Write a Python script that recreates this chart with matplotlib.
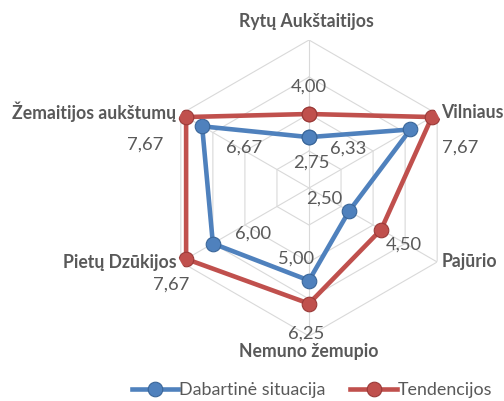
import numpy as np
import matplotlib
matplotlib.use("Agg")
import matplotlib.pyplot as plt

categories = ["Rytų Aukštaitijos", "Vilniaus", "Pajūrio", "Nemuno žemupio",
              "Pietų Dzūkijos", "Žemaitijos aukštumų"]
series_names = ["Dabartinė situacija", "Tendencijos"]
current = [2.75, 6.33, 2.50, 5.00, 6.00, 6.67]
trend = [4.00, 7.67, 4.50, 6.25, 7.67, 7.67]
rings = [2, 4, 6, 8]
rmax = 8

blue = "#4F81BD"
red = "#C0504D"
txt = "#595959"
gridc = "#D9D9D9"

plt.rcParams['font.family'] = ['Lato', 'DejaVu Sans']

fig = plt.figure(figsize=(5.04, 4.01), dpi=100)
cx, cy, R = 309, 188, 148
ax = fig.add_axes([(cx - R) / 504, (401 - cy - R) / 401, 2 * R / 504, 2 * R / 401],
                  projection='polar')
ax.set_theta_zero_location('N')
ax.set_theta_direction(-1)
ax.set_ylim(0, rmax)
ax.set_axis_off()

n = len(categories)
theta = np.linspace(0, 2 * np.pi, n, endpoint=False)
theta_c = np.append(theta, theta[0])

# hexagonal grid
for r in rings:
    ax.plot(theta_c, [r] * (n + 1), color=gridc, lw=0.8, zorder=1)
for t in theta:
    ax.plot([t, t], [0, rmax], color=gridc, lw=0.8, zorder=1)

def close(v):
    return list(v) + [v[0]]

ax.plot(theta_c, close(current), color=blue, lw=3.3, marker='o', ms=10.5,
        mfc=blue, mec="#3A6699", mew=0.8, zorder=3, label=series_names[0])
ax.plot(theta_c, close(trend), color=red, lw=3.3, marker='o', ms=10.5,
        mfc=red, mec="#9A3A38", mew=0.8, zorder=4, label=series_names[1])

def fmt(v):
    return f"{v:.2f}".replace(".", ",")

# data label offsets (pixels)
off_cur = [(2, -25), (-62, -19), (-25, 12), (-13, 22), (40, 10), (42, -21)]
off_tr = [(0, 27), (28, -31), (23, -15), (-3, -30), (-15, -26), (-41, -28)]
for i in range(n):
    ax.annotate(fmt(current[i]), (theta[i], current[i]), xytext=off_cur[i],
                textcoords='offset pixels', ha='center', va='center',
                fontsize=13.2, color=txt, zorder=5)
    ax.annotate(fmt(trend[i]), (theta[i], trend[i]), xytext=off_tr[i],
                textcoords='offset pixels', ha='center', va='center',
                fontsize=13.2, color=txt, zorder=5)

# category labels
cat_off = [((-3, 18), 'center'), ((4, 2), 'left'), ((4, 0), 'left'),
           ((0, -16), 'center'), ((-4, 0), 'right'), ((-5, 2), 'right')]
for i in range(n):
    (dx, dy), ha = cat_off[i]
    ax.annotate(categories[i], (theta[i], rmax), xytext=(dx, dy),
                textcoords='offset pixels', ha=ha, va='center',
                fontsize=12.7, fontweight='bold', color=txt,
                annotation_clip=False)

leg = fig.legend(loc='center', bbox_to_anchor=(312 / 504, 11 / 401), ncol=2,
                 frameon=False, fontsize=12.9, handlelength=2.6,
                 columnspacing=1.4, handletextpad=0.05, labelcolor=txt)

fig.savefig("out.png", dpi=100)
